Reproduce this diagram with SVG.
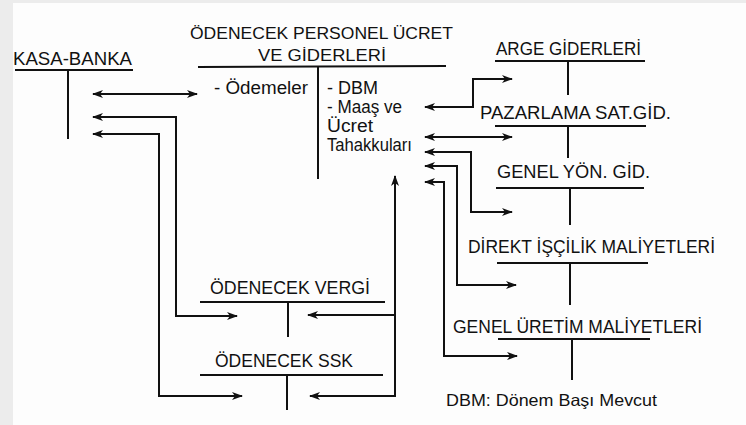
<svg xmlns="http://www.w3.org/2000/svg" width="746" height="425" viewBox="0 0 746 425">
<style>
  text { font-family: "Liberation Sans", "DejaVu Sans", sans-serif; font-size: 17.5px; fill: #111; }
  .hd { font-size: 18px; }
  .tt { font-size: 17px; }
  .small { font-size: 16.5px; }
  .acc { stroke: #111; stroke-width: 2; fill: none; stroke-linecap: butt; }
  .con { stroke: #111; stroke-width: 2; fill: none; stroke-linejoin: miter; }
  .end { marker-end: url(#ah); }
  .both { marker-start: url(#ah); marker-end: url(#ah); }
</style>
<defs>
  <marker id="ah" markerUnits="userSpaceOnUse" markerWidth="12" markerHeight="9" refX="10" refY="4" orient="auto-start-reverse">
    <path d="M0,0 L11,4 L0,8 L3,4 Z" fill="#111"/>
  </marker>
</defs>
<rect x="0" y="0" width="746" height="425" fill="#fdfdfd"/>
<rect x="0" y="0" width="13" height="425" fill="#ececec"/>
<rect x="0" y="0" width="746" height="3" fill="#ececec"/>

<g id="kasa-banka">
  <text class="hd" x="13" y="65" textLength="119" lengthAdjust="spacingAndGlyphs">KASA-BANKA</text>
  <line class="acc" x1="15" y1="70" x2="133" y2="70"/>
  <line class="acc" x1="68" y1="70" x2="68" y2="139"/>
</g>

<g id="odenecek-personel">
  <text class="tt" x="190" y="39" textLength="263" lengthAdjust="spacingAndGlyphs">ÖDENECEK PERSONEL ÜCRET</text>
  <text class="tt" x="258" y="61" textLength="128" lengthAdjust="spacingAndGlyphs">VE GİDERLERİ</text>
  <line class="acc" x1="198" y1="67" x2="446" y2="66"/>
  <line class="acc" x1="318" y1="67" x2="318" y2="179"/>
  <text x="214" y="94" textLength="94" lengthAdjust="spacingAndGlyphs">- Ödemeler</text>
  <text x="327" y="94" textLength="51" lengthAdjust="spacingAndGlyphs">- DBM</text>
  <text x="327" y="113" textLength="75" lengthAdjust="spacingAndGlyphs">- Maaş ve</text>
  <text x="327" y="132" textLength="46" lengthAdjust="spacingAndGlyphs">Ücret</text>
  <text x="327" y="151" textLength="85" lengthAdjust="spacingAndGlyphs">Tahakkuları</text>
</g>

<g id="odenecek-vergi">
  <text class="hd" x="210" y="294" textLength="160" lengthAdjust="spacingAndGlyphs">ÖDENECEK VERGİ</text>
  <line class="acc" x1="200" y1="302" x2="385" y2="302"/>
  <line class="acc" x1="288" y1="302" x2="288" y2="337"/>
</g>

<g id="odenecek-ssk">
  <text class="hd" x="215" y="367" textLength="138" lengthAdjust="spacingAndGlyphs">ÖDENECEK SSK</text>
  <line class="acc" x1="200" y1="375" x2="383" y2="375"/>
  <line class="acc" x1="287" y1="375" x2="287" y2="410"/>
</g>

<g id="arge">
  <text class="hd" x="496" y="55" textLength="145" lengthAdjust="spacingAndGlyphs">ARGE GİDERLERİ</text>
  <line class="acc" x1="495" y1="61" x2="645" y2="61"/>
  <line class="acc" x1="568" y1="61" x2="568" y2="95"/>
</g>

<g id="pazarlama">
  <text class="hd" x="480" y="119" textLength="191" lengthAdjust="spacingAndGlyphs">PAZARLAMA SAT.GİD.</text>
  <line class="acc" x1="495" y1="126" x2="646" y2="126"/>
  <line class="acc" x1="568" y1="126" x2="568" y2="158"/>
</g>

<g id="genel-yon">
  <text class="hd" x="497" y="178" textLength="153" lengthAdjust="spacingAndGlyphs">GENEL YÖN. GİD.</text>
  <line class="acc" x1="496" y1="188" x2="644" y2="188"/>
  <line class="acc" x1="570" y1="188" x2="570" y2="225"/>
</g>

<g id="direkt-iscilik">
  <text class="hd" x="468" y="253" textLength="247" lengthAdjust="spacingAndGlyphs">DİREKT İŞÇİLİK MALİYETLERİ</text>
  <line class="acc" x1="497" y1="263" x2="648" y2="263"/>
  <line class="acc" x1="570" y1="263" x2="570" y2="305"/>
</g>

<g id="genel-uretim">
  <text class="hd" x="453" y="333" textLength="249" lengthAdjust="spacingAndGlyphs">GENEL ÜRETİM MALİYETLERİ</text>
  <line class="acc" x1="498" y1="339" x2="650" y2="339"/>
  <line class="acc" x1="572" y1="339" x2="572" y2="380"/>
</g>

<g id="note">
  <text class="small" x="446" y="406" textLength="211" lengthAdjust="spacingAndGlyphs">DBM: Dönem Başı Mevcut</text>
</g>

<g id="connectors">
  <path class="con both" d="M93,94 H197"/>
  <path class="con both" d="M93,117 H176 V316 H237"/>
  <path class="con both" d="M93,134 H159 V396 H242"/>
  <path class="con both" d="M395,176 V396 H310"/>
  <path class="con end" d="M395,315 H308"/>
  <path class="con both" d="M425,107 H473 V79 H512"/>
  <path class="con both" d="M425,137 H512"/>
  <path class="con both" d="M425,152 H471 V212 H512"/>
  <path class="con both" d="M425,166 H457 V285 H516"/>
  <path class="con both" d="M425,182 H444 V356 H517"/>
</g>
</svg>
